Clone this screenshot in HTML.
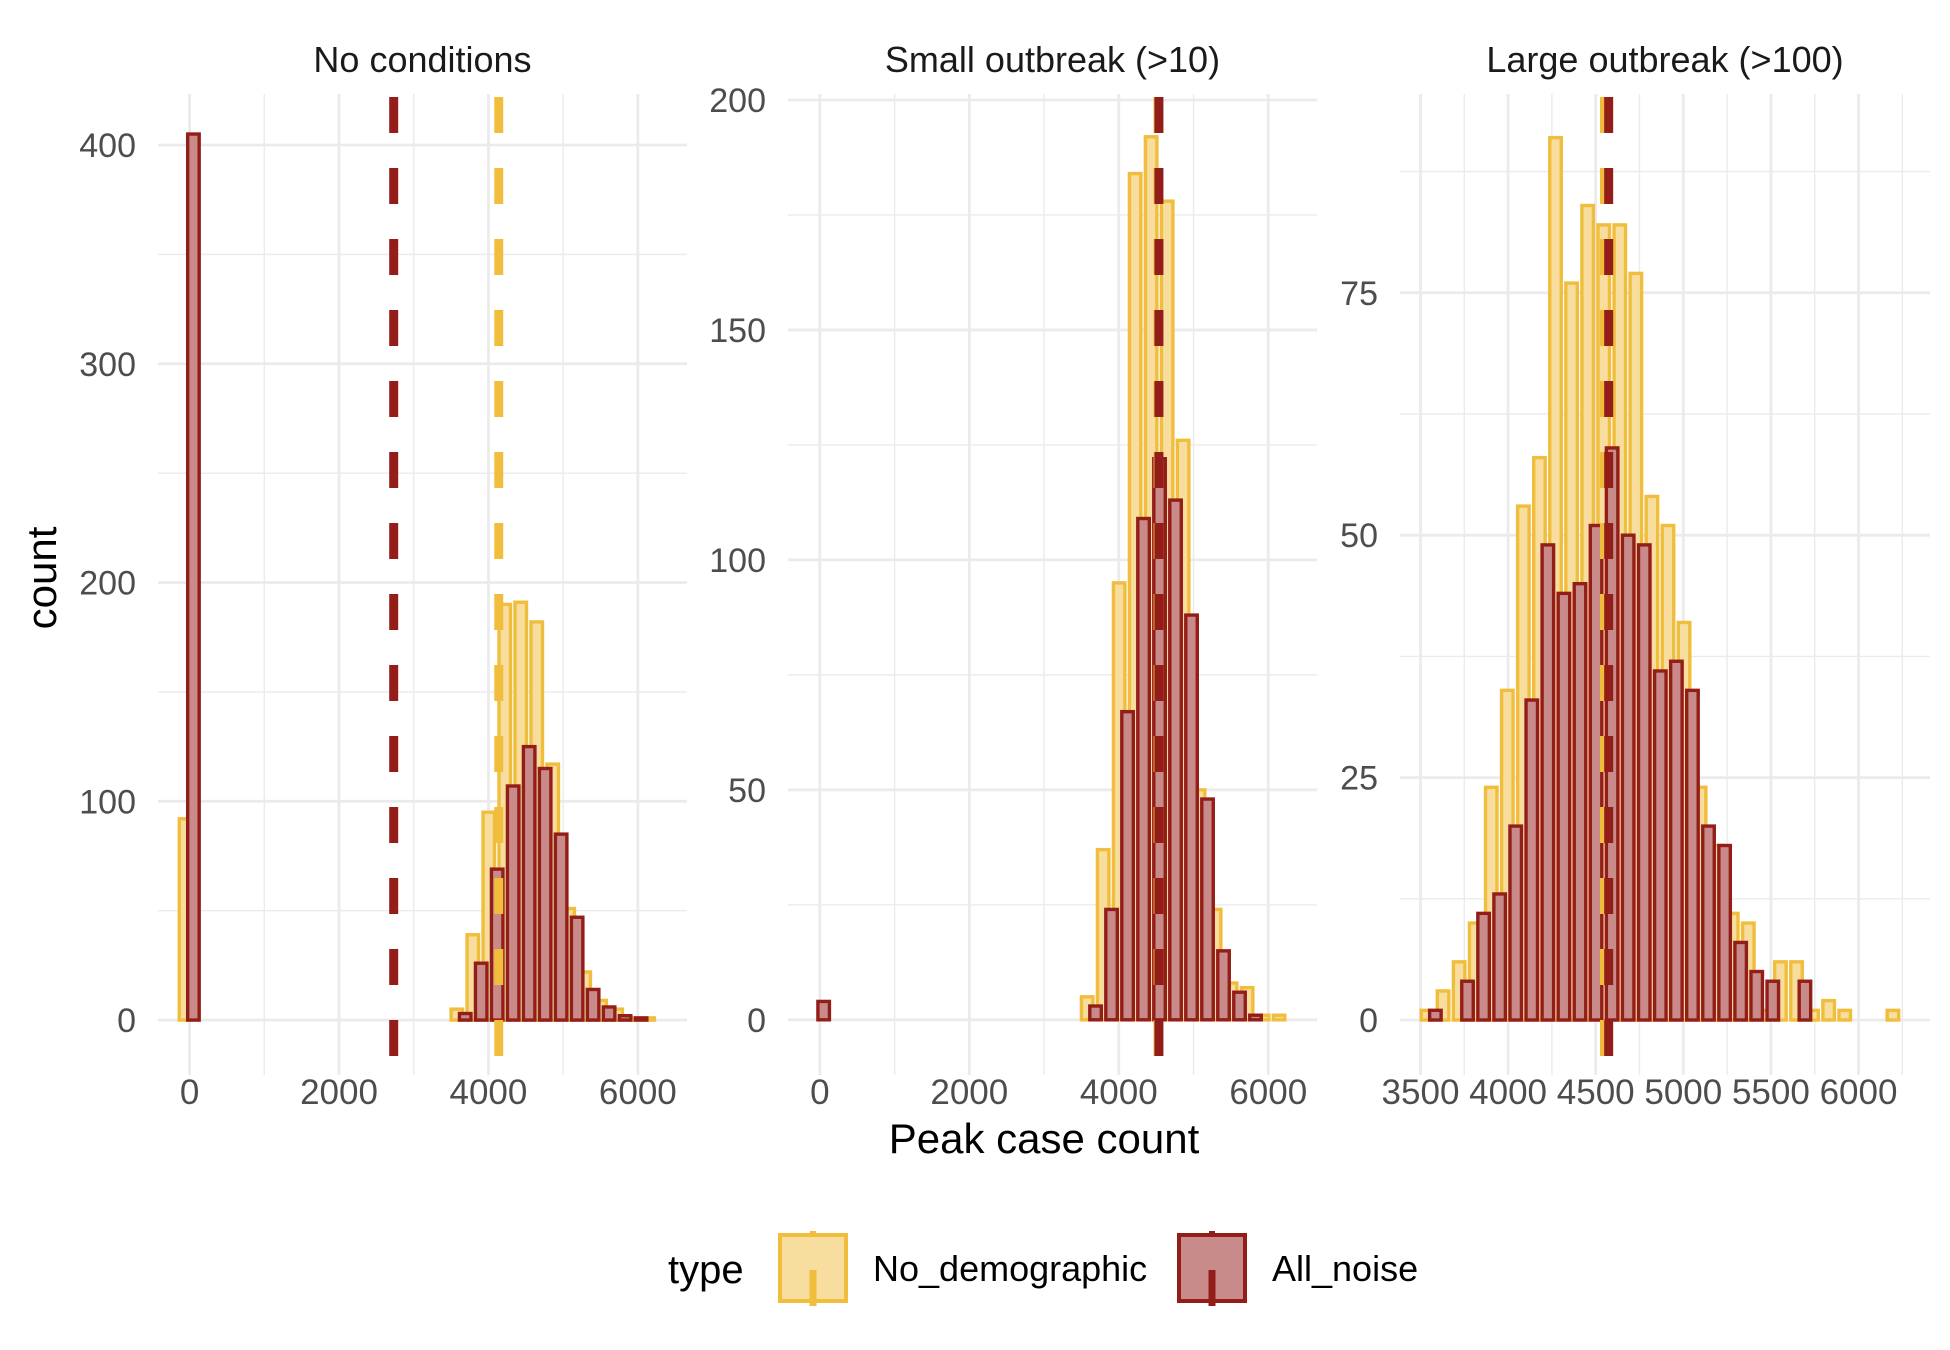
<!DOCTYPE html>
<html><head><meta charset="utf-8">
<style>
html,body{margin:0;padding:0;background:#fff;}
svg{display:block;font-family:"Liberation Sans",Arial,sans-serif;}
</style></head>
<body>
<svg id="chart" width="1950" height="1350" viewBox="0 0 1950 1350" xmlns="http://www.w3.org/2000/svg">
  <rect x="0" y="0" width="1950" height="1350" fill="#ffffff"/>
  <g id="panels"></g>
  <text x="1044" y="1153" font-size="42" text-anchor="middle" fill="#000">Peak case count</text>
  <text x="0" y="0" font-size="42" text-anchor="middle" fill="#000" transform="translate(56,578) rotate(-90)">count</text>
  <g>
    <text x="668" y="1283" font-size="40" fill="#000">type</text>
    <g>
      <rect x="780" y="1235" width="66" height="66" fill="#F7DE9E" stroke="#F0BE3C" stroke-width="4"/>
      <line x1="813" y1="1231" x2="813" y2="1236" stroke="#F0BE3C" stroke-width="6"/>
      <line x1="813" y1="1270" x2="813" y2="1306" stroke="#F0BE3C" stroke-width="7"/>
      <text x="873" y="1281" font-size="36" fill="#000">No_demographic</text>
    </g>
    <g>
      <rect x="1179" y="1235" width="66" height="66" fill="#C98B89" stroke="#931E19" stroke-width="4"/>
      <line x1="1212" y1="1231" x2="1212" y2="1236" stroke="#931E19" stroke-width="6"/>
      <line x1="1212" y1="1270" x2="1212" y2="1306" stroke="#931E19" stroke-width="7"/>
      <text x="1272" y="1281" font-size="36" fill="#000">All_noise</text>
    </g>
  </g>
</svg>
<script>
// ---- data ----
const panelTitles = ["No conditions", "Small outbreak (>10)", "Large outbreak (>100)"];
const p1BinStart = -5;
const p1BinWidth = 214;
const p1Yellow = [92,0,0,0,0,0,0,0,0,0,0,0,0,0,0,0,0,5,39,95,190,191,182,117,51,22,9,5,1,1];
const p1Red    = [405,0,0,0,0,0,0,0,0,0,0,0,0,0,0,0,0,3,26,69,107,125,115,85,47,14,6,2,1,0];
const p1MeanYellow = 4138;
const p1MeanRed = 2732;
const p2BinStart = -5;
const p2BinWidth = 214;
const p2Yellow = [0,0,0,0,0,0,0,0,0,0,0,0,0,0,0,0,0,5,37,95,184,192,178,126,50,24,8,7,1,1];
const p2Red    = [4,0,0,0,0,0,0,0,0,0,0,0,0,0,0,0,0,3,24,67,109,122,113,88,48,15,6,1,0,0];
const p2MeanYellow = 4525;
const p2MeanRed = 4537;
const p3BinStart = 3561;
const p3BinWidth = 91.7;
const p3Yellow = [1,3,6,10,24,34,53,58,91,76,84,82,82,77,54,51,41,24,18,11,10,1,6,6,1,2,1,0,0,1];
const p3Red    = [1,0,4,11,13,20,33,49,44,45,51,59,50,49,36,37,34,20,18,8,5,4,0,4,0,0,0,0,0,0];
const p3MeanYellow = 4550;
const p3MeanRed = 4574;
const p1XTicks = [0,2000,4000,6000];
const p1XMinor = [1000,3000,5000];
const p1YTicks = [0,100,200,300,400];
const p1YMinor = [50,150,250,350];
const p2XTicks = [0,2000,4000,6000];
const p2XMinor = [1000,3000,5000];
const p2YTicks = [0,50,100,150,200];
const p2YMinor = [25,75,125,175];
const p3XTicks = [3500,4000,4500,5000,5500,6000];
const p3XMinor = [3750,4250,4750,5250,5750,6250];
const p3YTicks = [0,25,50,75];
const p3YMinor = [12.5,37.5,62.5,87.5];

// ---- layout ----
const NS = "http://www.w3.org/2000/svg";
const plotTop = 94, plotBottom = 1075;
const panelDefs = [
  {name:"no-conditions", x0:158, x1:687, xd:[-423,6658], yd:[-25.1,423.3], bs:p1BinStart, bw:p1BinWidth, Y:p1Yellow, R:p1Red, my:p1MeanYellow, mr:p1MeanRed, xt:p1XTicks, xm:p1XMinor, yt:p1YTicks, ym:p1YMinor},
  {name:"small-outbreak", x0:788, x1:1317, xd:[-426,6652], yd:[-12,201.3], bs:p2BinStart, bw:p2BinWidth, Y:p2Yellow, R:p2Red, my:p2MeanYellow, mr:p2MeanRed, xt:p2XTicks, xm:p2XMinor, yt:p2YTicks, ym:p2YMinor},
  {name:"large-outbreak", x0:1400, x1:1930, xd:[3383,6408], yd:[-5.67,95.5], bs:p3BinStart, bw:p3BinWidth, Y:p3Yellow, R:p3Red, my:p3MeanYellow, mr:p3MeanRed, xt:p3XTicks, xm:p3XMinor, yt:p3YTicks, ym:p3YMinor}
];
const rootG = document.getElementById("panels");
function mk(tag, attrs, parent){
  const e = document.createElementNS(NS, tag);
  for (const k in attrs) e.setAttribute(k, attrs[k]);
  parent.appendChild(e);
  return e;
}
panelDefs.forEach((p, pi) => {
  const sx = v => p.x0 + (v - p.xd[0]) / (p.xd[1] - p.xd[0]) * (p.x1 - p.x0);
  const sy = v => plotBottom - (v - p.yd[0]) / (p.yd[1] - p.yd[0]) * (plotBottom - plotTop);
  const g = mk("g", {}, rootG);
  
  
  const st = mk("text", {x:(p.x0+p.x1)/2, y:72, "font-size":36, "text-anchor":"middle", fill:"#1A1A1A"}, g);
  st.textContent = panelTitles[pi];
  
  
  p.ym.forEach(v => { const l = mk("line", {x1:p.x0, x2:p.x1, y1:sy(v), y2:sy(v), stroke:"#EBEBEB", "stroke-width":1.4}, g);
    
     });
  p.xm.forEach(v => { const l = mk("line", {x1:sx(v), x2:sx(v), y1:plotTop, y2:plotBottom, stroke:"#EBEBEB", "stroke-width":1.4}, g);
    
     });
  p.yt.forEach(v => { const l = mk("line", {x1:p.x0, x2:p.x1, y1:sy(v), y2:sy(v), stroke:"#EBEBEB", "stroke-width":2.8}, g);
    
    
    const t = mk("text", {x:p.x0-22, y:sy(v)+12, "font-size":34, "text-anchor":"end", fill:"#4D4D4D"}, g);
    t.textContent = v;
    
     });
  p.xt.forEach(v => { const l = mk("line", {x1:sx(v), x2:sx(v), y1:plotTop, y2:plotBottom, stroke:"#EBEBEB", "stroke-width":2.8}, g);
    
    
    const t = mk("text", {x:sx(v), y:1104, "font-size":35, "text-anchor":"middle", fill:"#4D4D4D"}, g);
    t.textContent = v;
    
     });
  const bw = 11.5, off = 4.2;
  p.Y.forEach((c, j) => {
    const cx = sx(p.bs + j*p.bw) - off;
    const r = mk("rect", {x:cx-bw/2, y:sy(c), width:bw, height:Math.max(0, sy(0)-sy(c)), fill:"#F7DE9E", stroke:"#F0BE3C", "stroke-width":3.4}, g);
    
    
  });
  p.R.forEach((c, j) => {
    const cx = sx(p.bs + j*p.bw) + off;
    const r = mk("rect", {x:cx-bw/2, y:sy(c), width:bw, height:Math.max(0, sy(0)-sy(c)), fill:"#C98B89", stroke:"#931E19", "stroke-width":3.4}, g);
    
    
  });
  const ly = mk("line", {x1:sx(p.my), x2:sx(p.my), y1:97, y2:plotBottom, stroke:"#F0BE3C", "stroke-width":9, "stroke-dasharray":"36 35"}, g);
  
  
  const lr = mk("line", {x1:sx(p.mr), x2:sx(p.mr), y1:97, y2:plotBottom, stroke:"#931E19", "stroke-width":9, "stroke-dasharray":"36 35"}, g);
  
  
});
</script>
</body></html>
